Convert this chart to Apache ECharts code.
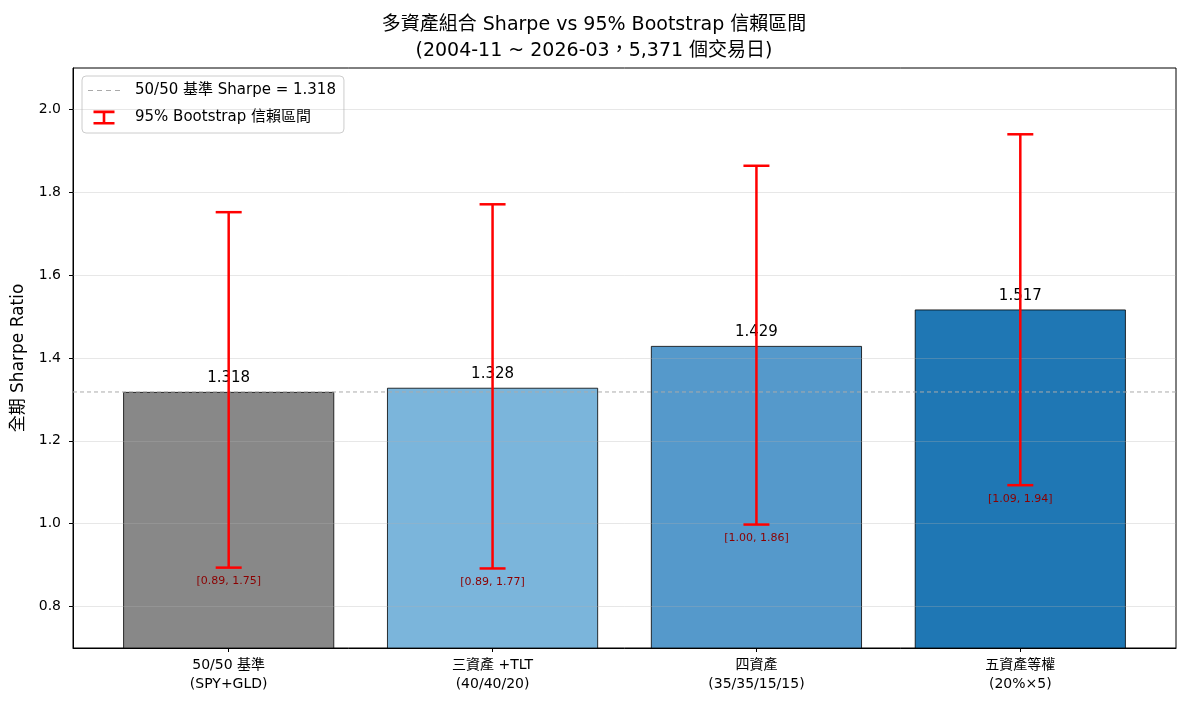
<!DOCTYPE html>
<html>
<head>
<meta charset="utf-8">
<script src="https://cdn.jsdelivr.net/npm/echarts@6/dist/echarts.min.js"></script>
<style>html,body{margin:0;padding:0;background:#fff}#c{width:1188px;height:709px}</style>
</head>
<body>
<div id="c"></div>
<script>
const categories = ['50/50 基準\n(SPY+GLD)', '三資產 +TLT\n(40/40/20)', '四資產\n(35/35/15/15)', '五資產等權\n(20%×5)'];
const sharpe = [1.318, 1.328, 1.429, 1.517];
const ciLow = [0.894, 0.892, 0.998, 1.093];
const ciHigh = [1.752, 1.771, 1.864, 1.940];
const barColors = ['#888888', '#7bb5db', '#5599cb', '#1f77b4'];
const yTicks = [0.8, 1.0, 1.2, 1.4, 1.6, 1.8, 2.0];
const xPos = [0, 1, 2, 3];

const FONT = "'DejaVu Sans', 'Noto Sans CJK TC', sans-serif";
const baseline = sharpe[0];
const chart = echarts.init(document.getElementById('c'), null, {renderer: 'canvas'});

const option = {
  animation: false,
  textStyle: {fontFamily: FONT},
  title: {
    text: '多資產組合 Sharpe vs 95% Bootstrap 信賴區間\n(2004-11 ~ 2026-03，5,371 個交易日)',
    left: 'center', top: 7,
    textStyle: {fontFamily: FONT, fontSize: 19, fontWeight: 'normal', color: '#000', lineHeight: 26}
  },
  legend: {
    left: 82, top: 76, orient: 'vertical',
    padding: [7, 8, 8, 6], itemGap: 12,
    borderColor: '#cccccc', borderWidth: 1, borderRadius: 4, backgroundColor: '#fff',
    itemWidth: 32, itemHeight: 14,
    textStyle: {fontFamily: FONT, fontSize: 15, color: '#000', padding: [0, 0, 0, 10]},
    data: [
      {name: '50/50 基準 Sharpe = ' + baseline.toFixed(3), icon: 'path://M0,0H5V1.2H0Z M9,0H14V1.2H9Z M18,0H23V1.2H18Z M27,0H32V1.2H27Z', itemStyle: {color: '#aaaaaa'}},
      {name: '95% Bootstrap 信賴區間', icon: 'path://M0,0H24V3H0Z M10.5,0H13.5V16H10.5Z M0,13H24V16H0Z', itemStyle: {color: '#ff0000'}}
    ]
  },
  grid: {left: 73, right: 12, top: 68, bottom: 61, show: true, borderColor: '#000', borderWidth: 1, backgroundColor: 'transparent'},
  xAxis: {
    type: 'value', min: -0.59, max: 3.59,
    axisLine: {show: true, onZero: false, lineStyle: {color: '#000'}},
    splitLine: {show: false},
    axisTick: {show: true, customValues: xPos, length: 4, lineStyle: {color: '#000'}},
    axisLabel: {customValues: xPos, formatter: v => categories[Math.round(v)], fontFamily: FONT, fontSize: 14, lineHeight: 19, color: '#000', margin: 8}
  },
  yAxis: {
    type: 'value', min: 0.7, max: 2.1,
    name: '全期 Sharpe Ratio', nameLocation: 'middle', nameGap: 46,
    nameTextStyle: {fontFamily: FONT, fontSize: 17, color: '#000'},
    axisLine: {show: true, onZero: false, lineStyle: {color: '#000'}},
    splitLine: {show: false},
    axisTick: {show: true, customValues: yTicks, length: 4, lineStyle: {color: '#000'}},
    axisLabel: {customValues: yTicks, formatter: v => v.toFixed(1), fontFamily: FONT, fontSize: 14, color: '#000', margin: 12}
  },
  series: [
    {
      type: 'bar', name: 'sharpe', barWidth: 211, z: 2,
      data: xPos.map((x, i) => ({value: [x, sharpe[i]], itemStyle: {color: barColors[i], borderColor: '#000', borderWidth: 0.8}})),
      label: {show: true, position: 'top', distance: 6, formatter: p => p.value[1].toFixed(3), fontFamily: FONT, fontSize: 15, color: '#000'}
    },
    {
      type: 'line', name: 'grid', data: [], z: 3, silent: true,
      markLine: {silent: true, symbol: 'none', label: {show: false}, animation: false,
        lineStyle: {color: 'rgba(176,176,176,0.3)', type: 'solid', width: 1},
        data: yTicks.map(v => ({yAxis: v}))}
    },
    {
      type: 'line', name: '50/50 基準 Sharpe = ' + baseline.toFixed(3), z: 4, showSymbol: false, symbol: 'none',
      lineStyle: {color: '#aaaaaa', type: [4, 3], width: 1},
      itemStyle: {color: '#aaaaaa'},
      data: [[-0.59, baseline], [3.59, baseline]]
    },
    {
      type: 'custom', name: '95% Bootstrap 信賴區間', z: 5,
      itemStyle: {color: '#ff0000'},
      data: xPos.map((x, i) => [x, ciLow[i], ciHigh[i]]),
      renderItem: (params, api) => {
        const x = api.value(0);
        const lo = api.coord([x, api.value(1)]);
        const hi = api.coord([x, api.value(2)]);
        const half = 13;
        const st = {stroke: '#ff0000', lineWidth: 2.5};
        return {
          type: 'group',
          children: [
            {type: 'line', shape: {x1: lo[0], y1: lo[1], x2: hi[0], y2: hi[1]}, style: st},
            {type: 'line', shape: {x1: lo[0] - half, y1: lo[1], x2: lo[0] + half, y2: lo[1]}, style: st},
            {type: 'line', shape: {x1: hi[0] - half, y1: hi[1], x2: hi[0] + half, y2: hi[1]}, style: st},
            {type: 'text', x: lo[0], y: lo[1] + 8,
              style: {text: '[' + api.value(1).toFixed(2) + ', ' + api.value(2).toFixed(2) + ']',
                fill: '#8b0000', font: '11px ' + FONT, textAlign: 'center', textVerticalAlign: 'top'}}
          ]
        };
      }
    }
  ]
};
chart.setOption(option);
</script>
</body>
</html>
